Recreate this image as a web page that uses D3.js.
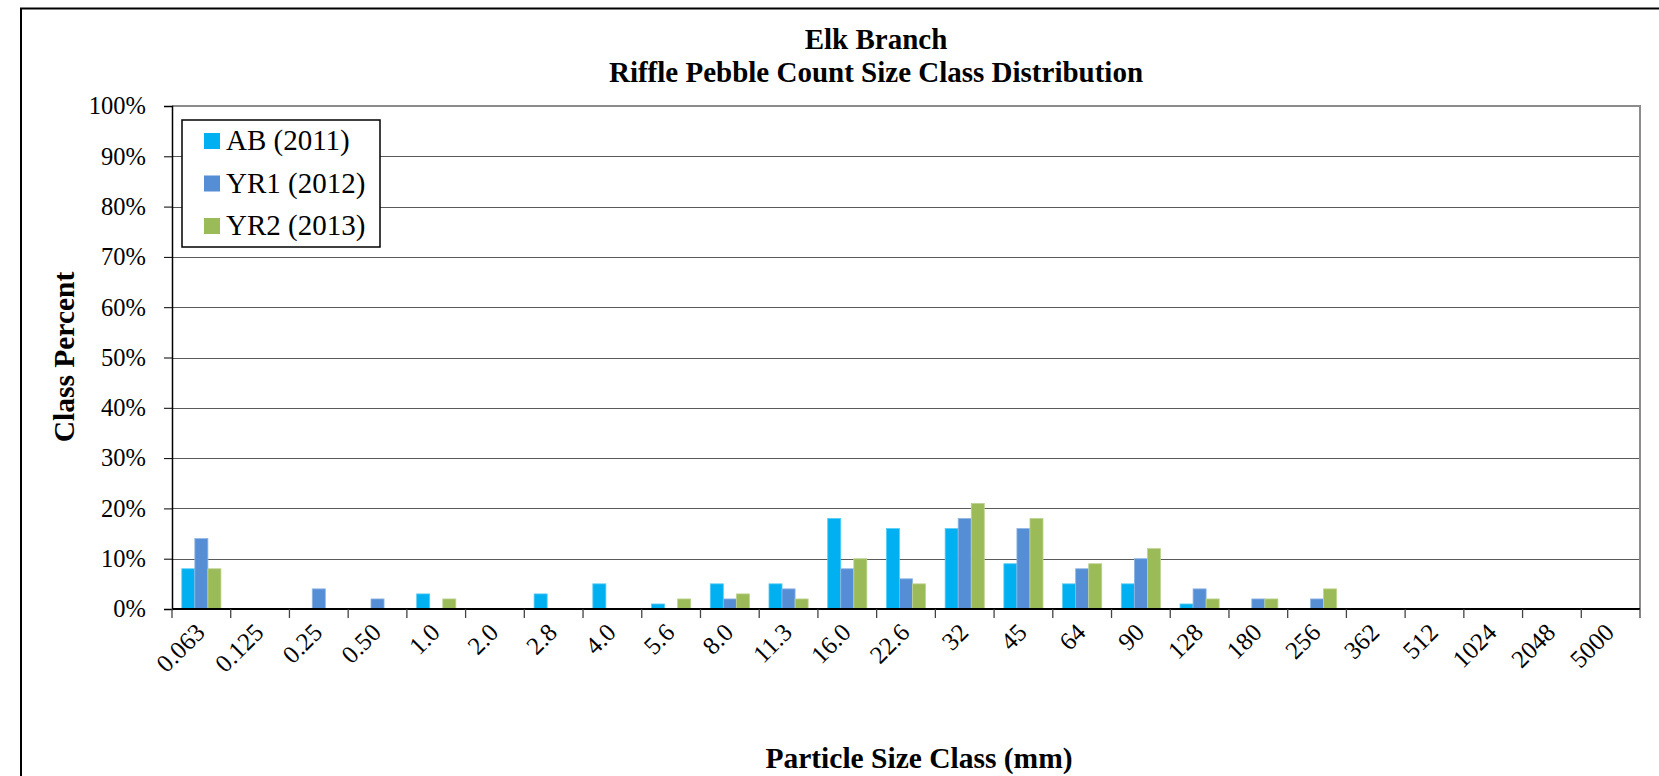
<!DOCTYPE html>
<html>
<head>
<meta charset="utf-8">
<script src="https://cdn.jsdelivr.net/npm/d3@7"></script>
<style>
  html, body { margin: 0; padding: 0; background: #fff; }
  svg { display: block; }
  text { font-family: "Liberation Serif", "Times New Roman", serif; fill: #000; }
</style>
</head>
<body>
<svg id="chart" width="1659" height="776"></svg>
<script>
const categories = ["0.063","0.125","0.25","0.50","1.0","2.0","2.8","4.0","5.6","8.0","11.3","16.0","22.6","32","45","64","90","128","180","256","362","512","1024","2048","5000"];
const seriesNames = ["AB (2011)", "YR1 (2012)", "YR2 (2013)"];
const seriesColors = ["#00B0F0", "#558ED5", "#9BBB59"];
const abValues  = [8, 0, 0, 0, 3, 0, 3, 5, 1, 5, 5, 18, 16, 16, 9, 5, 5, 1, 0, 0, 0, 0, 0, 0, 0];
const yr1Values = [14, 0, 4, 2, 0, 0, 0, 0, 0, 2, 4, 8, 6, 18, 16, 8, 10, 4, 2, 2, 0, 0, 0, 0, 0];
const yr2Values = [8, 0, 0, 0, 2, 0, 0, 0, 2, 3, 2, 10, 5, 21, 18, 9, 12, 2, 2, 4, 0, 0, 0, 0, 0];
const yTicks = [0, 10, 20, 30, 40, 50, 60, 70, 80, 90, 100];
const titleLines = ["Elk Branch", "Riffle Pebble Count Size Class Distribution"];
const xTitle = "Particle Size Class (mm)";
const yTitle = "Class Percent";

const seriesValues = [abValues, yr1Values, yr2Values];
const svg = d3.select("#chart");

// outer chart border
svg.append("rect").attr("x", 21).attr("y", 8.5).attr("width", 1700).attr("height", 800)
  .attr("fill", "#fff").attr("stroke", "#000").attr("stroke-width", 2);

const plot = { left: 172, right: 1640, top: 106, bottom: 609 };

const x = d3.scaleBand().domain(categories).range([plot.left, plot.right]).paddingInner(0).paddingOuter(0);
const groupW = x.bandwidth() * 3 / 4.5;
const xs = d3.scaleBand().domain(d3.range(seriesNames.length)).range([0, groupW]).padding(0);
const groupOffset = (x.bandwidth() - groupW) / 2;
const y = d3.scaleLinear().domain([0, 100]).range([plot.bottom, plot.top]);

// gridlines
svg.append("g").selectAll("line").data(yTicks.filter(d => d > 0 && d < 100)).join("line")
  .attr("x1", plot.left).attr("x2", plot.right)
  .attr("y1", d => Math.round(y(d)) + 0.5).attr("y2", d => Math.round(y(d)) + 0.5)
  .attr("stroke", "#5a5a5a").attr("stroke-width", 1);

// plot area border (top & right)
svg.append("path")
  .attr("d", `M${plot.left},${y(100)}H${plot.right}V${plot.bottom}`)
  .attr("fill", "none").attr("stroke", "#8c8c8c").attr("stroke-width", 2);

// bars
const groups = svg.append("g").selectAll("g").data(seriesValues).join("g")
  .attr("fill", (d, i) => seriesColors[i])
  .attr("stroke", (d, i) => d3.interpolateRgb(seriesColors[i], "#ffffff")(0.35))
  .attr("stroke-width", 0.8);
groups.selectAll("rect").data((vals, si) => vals.map((v, ci) => ({ v, ci, si }))).join("rect")
  .filter(d => d.v > 0)
  .attr("x", d => x(categories[d.ci]) + groupOffset + xs(d.si))
  .attr("width", xs.bandwidth())
  .attr("y", d => y(d.v))
  .attr("height", d => y(0) - y(d.v));

// y axis
const yAxis = d3.axisLeft(y).tickValues(yTicks).tickFormat(d => d + "%").tickSize(8).tickPadding(18);
const yg = svg.append("g").attr("transform", `translate(${plot.left},0)`).call(yAxis);
yg.select(".domain").attr("stroke", "#000").attr("stroke-width", 1.5);
yg.selectAll(".tick line").attr("stroke", "#000");
yg.selectAll(".tick text").attr("font-size", 24.5).attr("font-family", "Liberation Serif").attr("fill", "#000");

// x axis (ticks at category boundaries)
const boundaries = categories.map(c => x(c)).concat([plot.right]);
svg.append("line").attr("x1", plot.left).attr("x2", plot.right)
  .attr("y1", plot.bottom).attr("y2", plot.bottom).attr("stroke", "#000").attr("stroke-width", 2);
svg.append("g").selectAll("line").data(boundaries).join("line")
  .attr("x1", d => d).attr("x2", d => d)
  .attr("y1", plot.bottom).attr("y2", plot.bottom + 9)
  .attr("stroke", "#444").attr("stroke-width", 1.3);

svg.append("g").selectAll("text").data(categories).join("text")
  .attr("transform", d => `translate(${x(d) + x.bandwidth() / 2 + 5},${plot.bottom + 25}) rotate(-45)`)
  .attr("text-anchor", "end")
  .attr("font-size", 25)
  .text(d => d);

// titles
svg.append("text").attr("x", 876).attr("y", 49).attr("text-anchor", "middle")
  .attr("font-size", 29).attr("font-weight", "bold").text(titleLines[0]);
svg.append("text").attr("x", 876).attr("y", 82).attr("text-anchor", "middle")
  .attr("font-size", 29).attr("font-weight", "bold").text(titleLines[1]);
svg.append("text").attr("x", 919).attr("y", 768).attr("text-anchor", "middle")
  .attr("font-size", 29.5).attr("font-weight", "bold").text(xTitle);
svg.append("text").attr("transform", `translate(74,357) rotate(-90)`).attr("text-anchor", "middle")
  .attr("font-size", 29.5).attr("font-weight", "bold").text(yTitle);

// legend
const lg = svg.append("g");
lg.append("rect").attr("x", 182).attr("y", 120).attr("width", 198).attr("height", 127)
  .attr("fill", "#fff").attr("stroke", "#000").attr("stroke-width", 1.5);
const items = lg.selectAll("g").data(seriesNames).join("g")
  .attr("transform", (d, i) => `translate(204,${150 + i * 42.5})`);
items.append("rect").attr("x", 0).attr("y", -17).attr("width", 16).attr("height", 16)
  .attr("fill", (d, i) => seriesColors[i]);
items.append("text").attr("x", 22).attr("y", 0).attr("font-size", 29).text(d => d);
</script>
</body>
</html>
